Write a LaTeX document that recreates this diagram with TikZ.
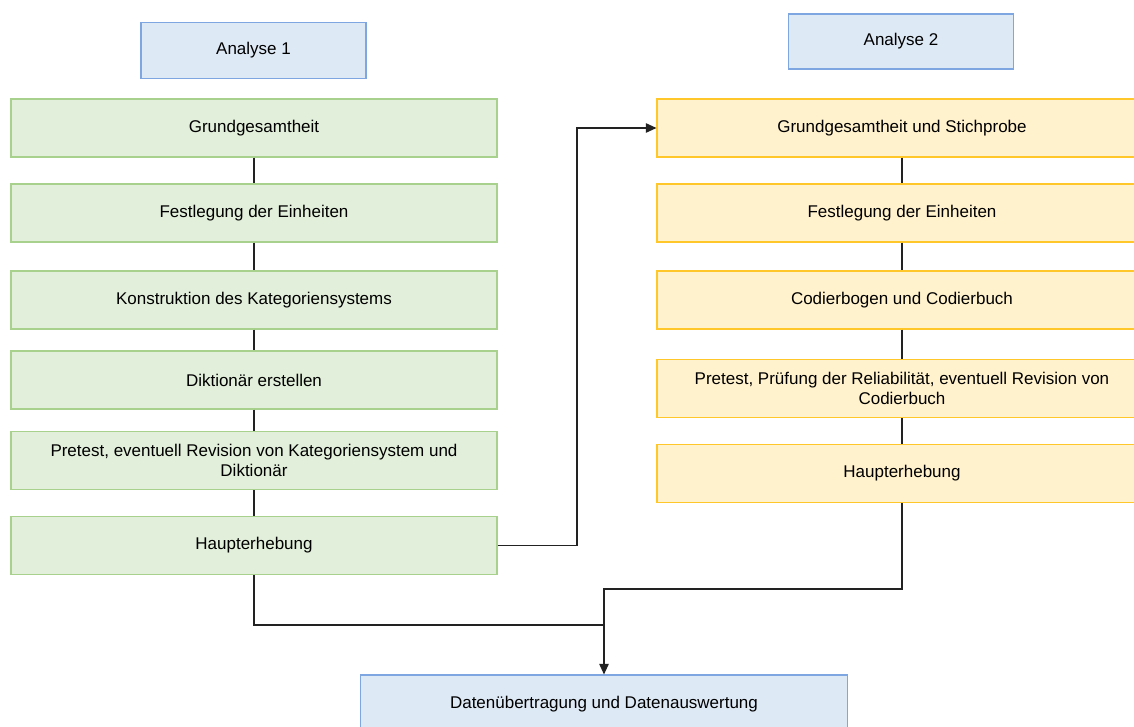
\documentclass[tikz,border=0pt]{standalone}
\usepackage{fontspec}
\setmainfont{Liberation Sans}
\usetikzlibrary{arrows.meta,positioning}

\definecolor{blueFill}{HTML}{DEE9F6}
\definecolor{blueLine}{HTML}{7EA6E0}
\definecolor{greenFill}{HTML}{E2EFDA}
\definecolor{greenLine}{HTML}{A9D18E}
\definecolor{yellowFill}{HTML}{FFF2CC}
\definecolor{yellowLine}{HTML}{FFC729}
\definecolor{wire}{HTML}{222222}

\tikzset{
  base/.style={draw, line width=0.9pt, align=center, inner sep=0pt,
    font=\fontsize{14.5}{17.5}\selectfont},
  headbox/.style={base, fill=blueFill, draw=blueLine, minimum width=6.75cm, minimum height=1.68cm},
  stepA/.style={base, fill=greenFill, draw=greenLine, minimum width=14.58cm, minimum height=1.74cm},
  stepB/.style={base, fill=yellowFill, draw=yellowLine, minimum width=14.7cm, minimum height=1.74cm},
  link/.style={draw=wire, line width=1.1pt},
}

\begin{document}
\begin{tikzpicture}[x=0.03cm, y=-0.03cm, >={Triangle[length=9pt,width=8pt]}]
  \clip (0,0) rectangle (1134,727);
  \fill[white] (0,0) rectangle (1134,727);

  % headings
  \node[headbox] (a1) at (253.5,50.5) {Analyse 1};
  \node[headbox, minimum height=1.65cm] (a2) at (901,41.5) {Analyse 2};

  % Analyse 1
  \node[stepA] (l1) at (254,128) {Grundgesamtheit};
  \node[stepA] (l2) at (254,213) {Festlegung der Einheiten};
  \node[stepA] (l3) at (254,300) {Konstruktion des Kategoriensystems};
  \node[stepA] (l4) at (254,380) {Diktionär erstellen};
  \node[stepA] (l5) at (254,460.5) {Pretest, eventuell Revision von Kategoriensystem und\\Diktionär};
  \node[stepA] (l6) at (254,545.5) {Haupterhebung};

  % Analyse 2
  \node[stepB] (r1) at (902,128) {Grundgesamtheit und Stichprobe};
  \node[stepB] (r2) at (902,213) {Festlegung der Einheiten};
  \node[stepB] (r3) at (902,300) {Codierbogen und Codierbuch};
  \node[stepB] (r4) at (902,388.5) {Pretest, Prüfung der Reliabilität, eventuell Revision von\\Codierbuch};
  \node[stepB] (r5) at (902,473.5) {Haupterhebung};

  % result
  \node[headbox, minimum width=14.61cm, minimum height=1.74cm] (out) at (604,704) {Datenübertragung und Datenauswertung};

  % connectors
  \foreach \i/\j in {1/2,2/3,3/4,4/5,5/6} \draw[link] (l\i) -- (l\j);
  \foreach \i/\j in {1/2,2/3,3/4,4/5} \draw[link] (r\i) -- (r\j);

  \coordinate (mid) at (577,0);
  \coordinate (joinR) at (604,589);
  \coordinate (joinL) at (604,625);
  \draw[link, ->] (l6.east) -- (l6.east -| mid) -- (mid |- r1.west) -- (r1.west);
  \draw[link] (l6.south) |- (joinL);
  \draw[link, ->] (r5.south) |- (joinR) -- (out.north);
\end{tikzpicture}
\end{document}
